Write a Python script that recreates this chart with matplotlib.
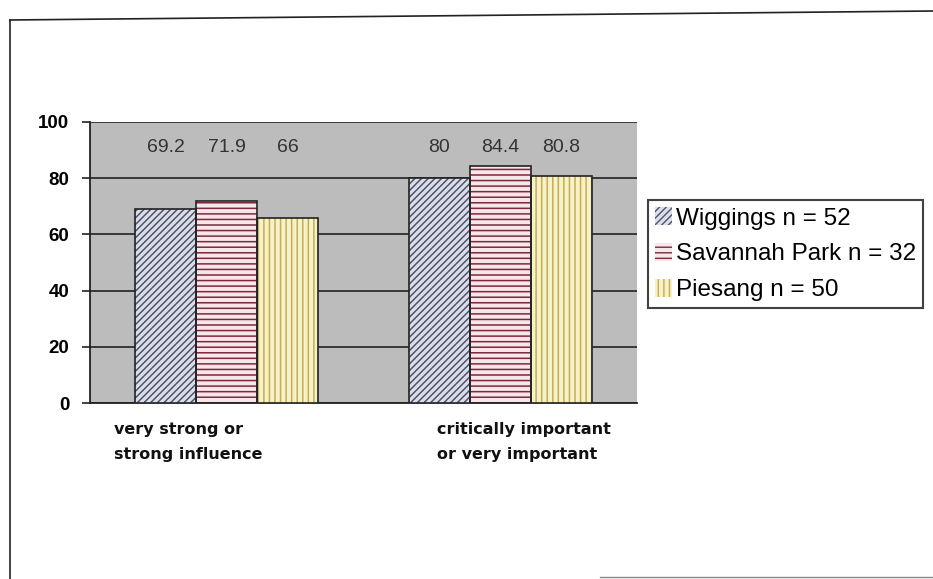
import matplotlib
matplotlib.use("Agg")
import matplotlib.pyplot as plt
import matplotlib.lines as mlines
import numpy as np

categories = ["very strong or\nstrong influence", "critically important\nor very important"]
series_names = ["Wiggings n = 52", "Savannah Park n = 32", "Piesang n = 50"]
wiggings = [69.2, 80.0]
savannah = [71.9, 84.4]
piesang = [66.0, 80.8]
label_texts = [["69.2", "80"], ["71.9", "84.4"], ["66", "80.8"]]
yticks = [0, 20, 40, 60, 80, 100]

values = [wiggings, savannah, piesang]
fills = ["#dcdfe9", "#f9e6ea", "#f7f2c4"]
hatch_cols = ["#50546a", "#7a2a3a", "#c4ab60"]
hatches = ["/////", "---", "|||"]

W, H = 933, 579
fig = plt.figure(figsize=(W / 100, H / 100), dpi=100)
fig.patch.set_facecolor("white")
ax = fig.add_axes([90 / W, 1 - 403 / H, 547 / W, 281 / H])
ax.set_facecolor("#bcbcbc")

x = np.arange(len(categories))
bw = 0.223
for i, (vals, fc, hc, ht, nm) in enumerate(zip(values, fills, hatch_cols, hatches, series_names)):
    pos = x + (i - 1) * bw
    with plt.rc_context({"hatch.linewidth": 1.1}):
        ax.bar(pos, vals, width=bw, color=fc, edgecolor=hc, hatch=ht, linewidth=0, zorder=3, label=nm)
    ax.bar(pos, vals, width=bw, facecolor="none", edgecolor="#222222", linewidth=1.2, zorder=4)
    for p, t in zip(pos, label_texts[i]):
        ax.text(p, 91, t, ha="center", va="center", fontsize=14, color="#333333",
                family="Liberation Sans", zorder=5)

ax.set_xlim(-0.5, 1.5)
ax.set_ylim(0, 100)
ax.set_yticks(yticks)
ax.set_yticklabels([str(v) for v in yticks], fontsize=13.5, family="Liberation Sans", fontweight="bold")
ax.yaxis.grid(True, color="#222222", linewidth=1.2, zorder=1)
ax.set_axisbelow(True)
ax.tick_params(axis="y", length=6, width=1.2, pad=9, color="#222222")
ax.set_xticks([])
for s in ["top", "right"]:
    ax.spines[s].set_visible(False)
for s in ["left", "bottom"]:
    ax.spines[s].set_color("#222222")
    ax.spines[s].set_linewidth(1.3)

# category labels
cat_x = [114, 437]
for cx, c in zip(cat_x, categories):
    fig.text(cx / W, 1 - 422 / H, c, ha="left", va="top", fontsize=11.5, fontweight="bold",
             family="DejaVu Sans", color="#111111", linespacing=1.85)

leg = ax.legend(loc="upper left", bbox_to_anchor=(648 / W, 1 - 200 / H),
                bbox_transform=fig.transFigure, frameon=True, fancybox=False,
                prop={"family": "Liberation Sans", "size": 17.5},
                handlelength=0.7, handleheight=0.75, handletextpad=0.15,
                labelspacing=0.55, borderpad=0.3, borderaxespad=0)
leg.get_frame().set_edgecolor("#111111")
leg.get_frame().set_linewidth(1.5)

# page frame lines
fig.add_artist(mlines.Line2D([10 / W, 10 / W], [1 - 20 / H, 0], color="#222222", lw=1.2))
fig.add_artist(mlines.Line2D([10 / W, 1.0], [1 - 20 / H, 1 - 11 / H], color="#222222", lw=1.2))
fig.add_artist(mlines.Line2D([600 / W, 1.0], [2 / H, 2 / H], color="#888888", lw=1.0))

fig.savefig("out.png", dpi=100)
